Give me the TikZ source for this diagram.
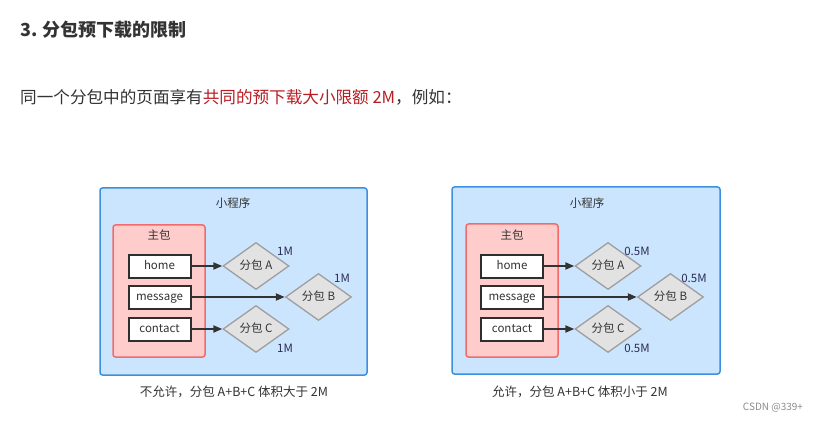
\documentclass[tikz,border=0pt]{standalone}
\usepackage{fontspec}
\setmainfont{Noto Sans CJK SC}
\usetikzlibrary{shapes.geometric,arrows.meta}
\definecolor{txt}{HTML}{333333}
\definecolor{redtxt}{HTML}{B81C22}
\definecolor{bluefill}{HTML}{CCE5FF}
\definecolor{blueline}{HTML}{3D8FE0}
\definecolor{redfill}{HTML}{FFCCCC}
\definecolor{redline}{HTML}{F26B6B}
\definecolor{dfill}{HTML}{E2E2E2}
\definecolor{dline}{HTML}{9E9E9E}
\tikzset{
  outerbox/.style={draw=blueline, fill=bluefill, line width=1.5pt, rounded corners=2.5pt},
  mainbox/.style={draw=redline, fill=redfill, line width=1.5pt, rounded corners=2.5pt},
  pagebox/.style={draw=txt!90!black, fill=white, line width=2pt, minimum width=62pt, minimum height=23pt, inner sep=0pt, text height=8.5pt, text depth=2.5pt, font=\fontsize{11.5}{13}\selectfont, text=txt},
  subpkg/.style={diamond, draw=dline, fill=dfill, line width=1.3pt, minimum width=66pt, minimum height=47pt, inner sep=0pt, aspect=1.4, text height=8.5pt, text depth=2.5pt, font=\fontsize{11.5}{13}\selectfont, text=txt},
  lbl/.style={font=\fontsize{11.5}{13}\selectfont, text=txt},
  sizelbl/.style={font=\fontsize{11.5}{13}\selectfont, text=txt!85!blue},
  captext/.style={font=\fontsize{12.5}{15}\selectfont, text=txt},
  conn/.style={draw=txt, line width=1.8pt, -{Triangle[length=9pt,width=7pt]}}
}
\begin{document}
\begin{tikzpicture}[x=1pt,y=-1pt]
\useasboundingbox (0,0) rectangle (819,422);
\fill[white] (0,0) rectangle (819,422);

\node[anchor=west, inner sep=0pt, font=\fontsize{18}{22}\selectfont\bfseries, text=txt] (title) at (20,30) {3. 分包预下载的限制};
\node[anchor=west, inner sep=0pt, font=\fontsize{16.6}{20}\selectfont, text=txt] (intro) at (20,97) {同一个分包中的页面享有\textcolor{redtxt}{共同的预下载大小限额 2M}，例如：};

% ---------- left diagram ----------
\draw[outerbox] (100,188) rectangle (367,375);
\node[lbl] (lapp) at (233,203) {小程序};
\draw[mainbox] (113,225) rectangle (205,357);
\node[lbl] (lmain) at (159,235) {主包};
\node[pagebox] (lhome) at (159.5,266) {home};
\node[pagebox] (lmsg) at (159.5,297) {message};
\node[pagebox] (lcon) at (159.5,329) {contact};
\node[subpkg] (lA) at (256,266) {分包 A};
\node[subpkg] (lB) at (318.5,297) {分包 B};
\node[subpkg] (lC) at (256,329) {分包 C};
\node[sizelbl] (lAs) at (285,251) {1M};
\node[sizelbl] (lBs) at (342,278) {1M};
\node[sizelbl] (lCs) at (285,348) {1M};
\draw[conn] (lhome.east) -- (lA.west);
\draw[conn] (lmsg.east) -- (lB.west);
\draw[conn] (lcon.east) -- (lC.west);
\node[captext] (lcap) at (234,392) {不允许，分包 A+B+C 体积大于 2M};

% ---------- right diagram ----------
\draw[outerbox] (452,187) rectangle (720,374);
\node[lbl] (rapp) at (587,203) {小程序};
\draw[mainbox] (466,224) rectangle (558,357);
\node[lbl] (rmain) at (512,235) {主包};
\node[pagebox] (rhome) at (512,266) {home};
\node[pagebox] (rmsg) at (512,297) {message};
\node[pagebox] (rcon) at (512,329) {contact};
\node[subpkg] (rA) at (608,266) {分包 A};
\node[subpkg] (rB) at (670.5,297) {分包 B};
\node[subpkg] (rC) at (608,329) {分包 C};
\node[sizelbl] (rAs) at (637,251) {0.5M};
\node[sizelbl] (rBs) at (694,278) {0.5M};
\node[sizelbl] (rCs) at (637,348) {0.5M};
\draw[conn] (rhome.east) -- (rA.west);
\draw[conn] (rmsg.east) -- (rB.west);
\draw[conn] (rcon.east) -- (rC.west);
\node[captext] (rcap) at (580,392) {允许，分包 A+B+C 体积小于 2M};

\node[font=\fontsize{10}{12}\selectfont, text=black!45] (mark) at (773,408) {CSDN @339+};
\end{tikzpicture}
\end{document}
